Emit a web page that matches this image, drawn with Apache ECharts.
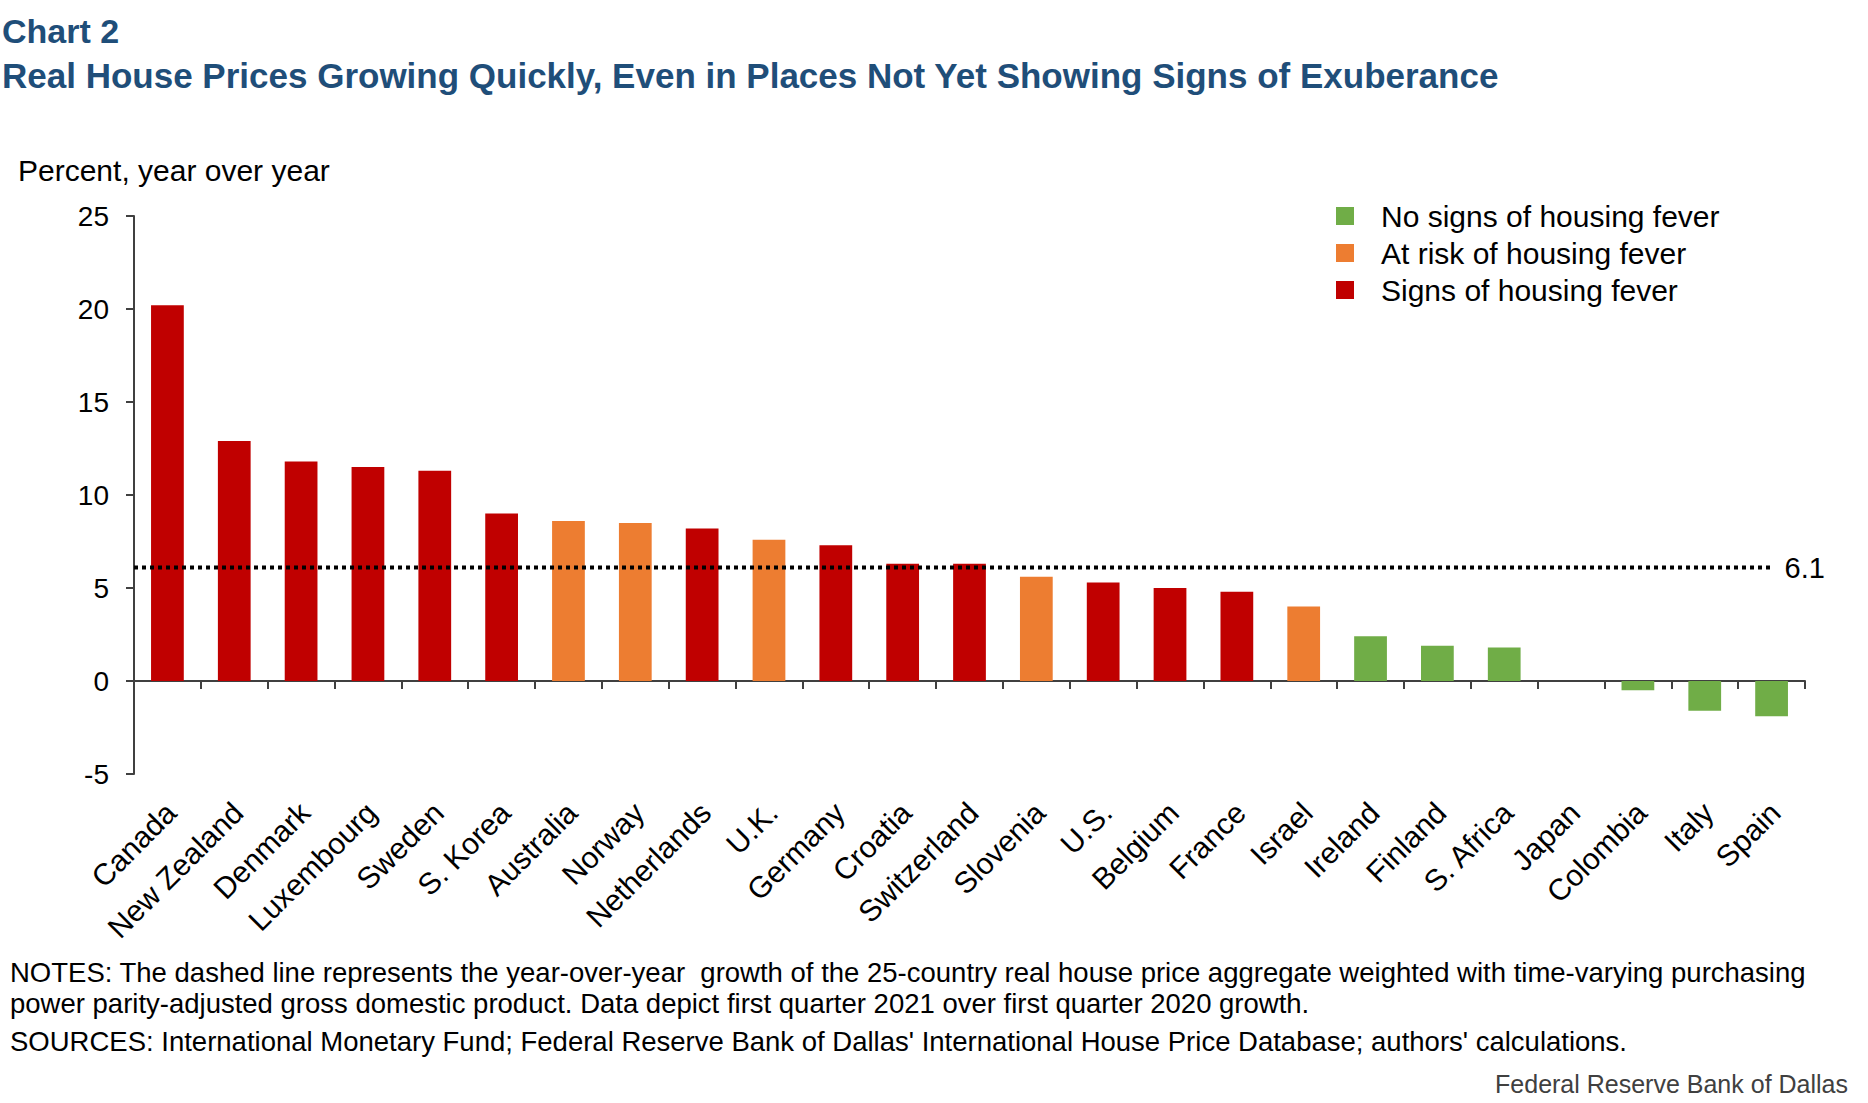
<!DOCTYPE html>
<html>
<head>
<meta charset="utf-8">
<script src="https://cdn.jsdelivr.net/npm/echarts@6/dist/echarts.min.js"></script>
<style>
html,body{margin:0;padding:0;background:#ffffff;}
#chart{width:1868px;height:1103px;}
</style>
</head>
<body>
<div id="chart"></div>
<script>
// ---- data ----
const categories = ['Canada','New Zealand','Denmark','Luxembourg','Sweden','S. Korea','Australia','Norway','Netherlands','U.K.','Germany','Croatia','Switzerland','Slovenia','U.S.','Belgium','France','Israel','Ireland','Finland','S. Africa','Japan','Colombia','Italy','Spain'];
const growth = [20.2, 12.9, 11.8, 11.5, 11.3, 9.0, 8.6, 8.5, 8.2, 7.6, 7.3, 6.3, 6.3, 5.6, 5.3, 5.0, 4.8, 4.0, 2.4, 1.9, 1.8, 0.0, -0.5, -1.6, -1.9];
const status = ['fever','fever','fever','fever','fever','fever','risk','risk','fever','risk','fever','fever','fever','risk','fever','fever','fever','risk','none','none','none','none','none','none','none'];
const statusKeys = ['none', 'risk', 'fever'];
const statusLabels = ['No signs of housing fever', 'At risk of housing fever', 'Signs of housing fever'];
const aggregateGrowth = 6.1;
const yMin = -5, yMax = 25, yInterval = 5;

const titleLine1 = 'Chart 2';
const titleLine2 = 'Real House Prices Growing Quickly, Even in Places Not Yet Showing Signs of Exuberance';
const unitLabel = 'Percent, year over year';
const notesLine1 = "NOTES: The dashed line represents the year-over-year  growth of the 25-country real house price aggregate weighted with time-varying purchasing";
const notesLine2 = "power parity-adjusted gross domestic product. Data depict first quarter 2021 over first quarter 2020 growth.";
const sourcesLine = "SOURCES: International Monetary Fund; Federal Reserve Bank of Dallas' International House Price Database; authors' calculations.";
const creditLine = 'Federal Reserve Bank of Dallas';

// ---- styles ----
const FONT = '"Liberation Sans", Arial, sans-serif';
const colors = { none: '#70AD47', risk: '#ED7D31', fever: '#C00000' };
const TITLE_COLOR = '#1F4E79';
const AXIS_COLOR = '#404040';

const barSeries = statusKeys.map((key, k) => ({
  name: statusLabels[k],
  type: 'bar',
  stack: 'all',
  xAxisIndex: 0,
  yAxisIndex: 0,
  barWidth: '49%',
  itemStyle: { color: colors[key] },
  data: growth.map((v, i) => status[i] === key ? v : '-'),
  silent: true
}));

const avgSeries = {
  name: 'aggregate',
  type: 'line',
  xAxisIndex: 2,
  yAxisIndex: 0,
  symbol: 'none',
  silent: true,
  z: 5,
  lineStyle: { color: '#000000', width: 4, type: [4, 4], cap: 'butt' },
  data: [[0, aggregateGrowth], [categories.length - 0.5, aggregateGrowth]],
  endLabel: {
    show: true,
    formatter: () => aggregateGrowth.toFixed(1),
    fontSize: 29,
    fontFamily: FONT,
    color: '#000000',
    distance: 13
  }
};

const chart = echarts.init(document.getElementById('chart'), null, { renderer: 'svg' });
chart.setOption({
  animation: false,
  backgroundColor: '#ffffff',
  textStyle: { fontFamily: FONT },
  grid: { left: 134, right: 63, top: 216, bottom: 329, containLabel: false },
  legend: {
    data: statusLabels,
    orient: 'vertical',
    left: 1331,
    top: 196,
    icon: 'rect',
    itemWidth: 18,
    itemHeight: 18,
    itemGap: 7,
    selectedMode: false,
    textStyle: { fontSize: 30, fontFamily: FONT, color: '#000000', lineHeight: 30, padding: [0, 0, 0, 22] }
  },
  xAxis: [
    {
      type: 'category',
      data: categories,
      position: 'bottom',
      axisLine: { show: true, onZero: true, lineStyle: { color: AXIS_COLOR, width: 2 } },
      axisTick: { show: true, length: 8, interval: 0, lineStyle: { color: AXIS_COLOR, width: 2 } },
      axisLabel: { show: false },
      splitLine: { show: false }
    },
    {
      type: 'category',
      data: categories,
      position: 'bottom',
      axisLine: { show: false, onZero: false },
      axisTick: { show: false },
      axisLabel: {
        show: true,
        interval: 0,
        rotate: 45,
        fontSize: 30,
        fontFamily: FONT,
        color: '#000000',
        align: 'right',
        verticalAlign: 'top',
        lineHeight: 10,
        margin: 30
      },
      splitLine: { show: false }
    },
    {
      type: 'value',
      min: 0,
      max: categories.length,
      show: false
    }
  ],
  yAxis: [{
    type: 'value',
    min: yMin,
    max: yMax,
    interval: yInterval,
    axisLine: { show: true, lineStyle: { color: AXIS_COLOR, width: 2 } },
    axisTick: { show: true, length: 8, lineStyle: { color: AXIS_COLOR, width: 2 } },
    axisLabel: { fontSize: 28, fontFamily: FONT, color: '#000000', margin: 25 },
    splitLine: { show: false }
  }],
  series: [...barSeries, avgSeries],
  graphic: [
    { type: 'text', x: 2, y: 31, silent: true, style: { text: titleLine1, fontSize: 34, fontWeight: 'bold', fontFamily: FONT, fill: TITLE_COLOR, verticalAlign: 'middle' } },
    { type: 'text', x: 2, y: 75, silent: true, style: { text: titleLine2, fontSize: 35, fontWeight: 'bold', fontFamily: FONT, fill: TITLE_COLOR, verticalAlign: 'middle' } },
    { type: 'text', x: 18, y: 170, silent: true, style: { text: unitLabel, fontSize: 30, fontFamily: FONT, fill: '#000000', verticalAlign: 'middle' } },
    { type: 'text', x: 10, y: 972, silent: true, style: { text: notesLine1, fontSize: 27.5, fontFamily: FONT, fill: '#000000', verticalAlign: 'middle' } },
    { type: 'text', x: 10, y: 1003, silent: true, style: { text: notesLine2, fontSize: 27.5, fontFamily: FONT, fill: '#000000', verticalAlign: 'middle' } },
    { type: 'text', x: 10, y: 1041, silent: true, style: { text: sourcesLine, fontSize: 27.5, fontFamily: FONT, fill: '#000000', verticalAlign: 'middle' } },
    { type: 'text', x: 1848, y: 1084, silent: true, style: { text: creditLine, fontSize: 25, fontFamily: FONT, fill: '#404040', align: 'right', verticalAlign: 'middle' } }
  ]
});
</script>
</body>
</html>
